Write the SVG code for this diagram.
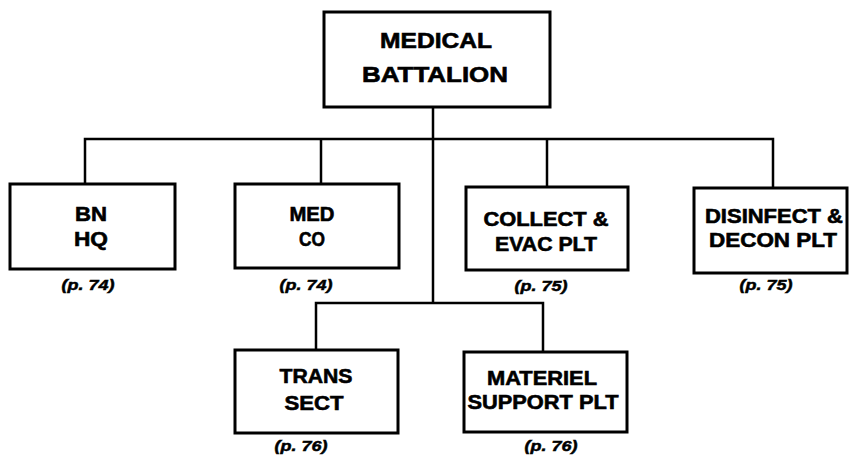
<svg xmlns="http://www.w3.org/2000/svg" width="849" height="457" viewBox="0 0 849 457">
<style>
.box{fill:#fff;stroke:#000;stroke-width:3}
.lbl{font-family:"Liberation Sans",Arial,sans-serif;font-weight:bold;font-size:20px;text-anchor:middle;fill:#000;stroke:#000;stroke-width:0.6}
.top{font-size:22px}
.ref{font-family:"Liberation Sans",Arial,sans-serif;font-weight:bold;font-style:italic;font-size:15px;text-anchor:middle;fill:#000;stroke:#000;stroke-width:0.5}
.conn{fill:none;stroke:#000;stroke-width:2.5}
</style>
<rect width="849" height="457" fill="#fff"/>
<g id="connectors">
<path class="conn" d="M433 107 V303"/>
<path class="conn" d="M85 184 V139 H773 V188"/>
<path class="conn" d="M321 139 V184"/>
<path class="conn" d="M547 139 V187"/>
<path class="conn" d="M316 350 V303 H543 V352"/>
</g>
<g id="medical-battalion">
<rect class="box" x="324" y="12" width="226" height="95"/>
<text class="lbl top" x="436" y="48" textLength="112" lengthAdjust="spacingAndGlyphs">MEDICAL</text>
<text class="lbl top" x="435" y="82" textLength="146" lengthAdjust="spacingAndGlyphs">BATTALION</text>
</g>
<g id="bn-hq">
<rect class="box" x="10" y="184" width="165" height="85"/>
<text class="lbl" x="91" y="221" textLength="32" lengthAdjust="spacingAndGlyphs">BN</text>
<text class="lbl" x="91" y="246" textLength="34" lengthAdjust="spacingAndGlyphs">HQ</text>
<text class="ref" x="88" y="290" textLength="53" lengthAdjust="spacingAndGlyphs">(p. 74)</text>
</g>
<g id="med-co">
<rect class="box" x="235" y="184" width="164" height="84"/>
<text class="lbl" x="312" y="221" textLength="45" lengthAdjust="spacingAndGlyphs">MED</text>
<text class="lbl" x="312" y="246" textLength="26" lengthAdjust="spacingAndGlyphs">CO</text>
<text class="ref" x="306" y="290" textLength="53" lengthAdjust="spacingAndGlyphs">(p. 74)</text>
</g>
<g id="collect-evac">
<rect class="box" x="466" y="187" width="162" height="83"/>
<text class="lbl" x="546" y="226" textLength="125" lengthAdjust="spacingAndGlyphs">COLLECT &amp;</text>
<text class="lbl" x="546" y="251" textLength="102" lengthAdjust="spacingAndGlyphs">EVAC PLT</text>
<text class="ref" x="541" y="291" textLength="53" lengthAdjust="spacingAndGlyphs">(p. 75)</text>
</g>
<g id="disinfect-decon">
<rect class="box" x="694" y="188" width="153" height="85"/>
<text class="lbl" x="774" y="223" textLength="138" lengthAdjust="spacingAndGlyphs">DISINFECT &amp;</text>
<text class="lbl" x="773" y="247" textLength="128" lengthAdjust="spacingAndGlyphs">DECON PLT</text>
<text class="ref" x="766" y="290" textLength="53" lengthAdjust="spacingAndGlyphs">(p. 75)</text>
</g>
<g id="trans-sect">
<rect class="box" x="235" y="350" width="163" height="83"/>
<text class="lbl" x="316" y="383" textLength="73" lengthAdjust="spacingAndGlyphs">TRANS</text>
<text class="lbl" x="314" y="410" textLength="59" lengthAdjust="spacingAndGlyphs">SECT</text>
<text class="ref" x="301" y="451" textLength="53" lengthAdjust="spacingAndGlyphs">(p. 76)</text>
</g>
<g id="materiel-support">
<rect class="box" x="464" y="352" width="163" height="80"/>
<text class="lbl" x="542" y="385" textLength="110" lengthAdjust="spacingAndGlyphs">MATERIEL</text>
<text class="lbl" x="543" y="409" textLength="151" lengthAdjust="spacingAndGlyphs">SUPPORT PLT</text>
<text class="ref" x="551" y="451" textLength="53" lengthAdjust="spacingAndGlyphs">(p. 76)</text>
</g>
</svg>
